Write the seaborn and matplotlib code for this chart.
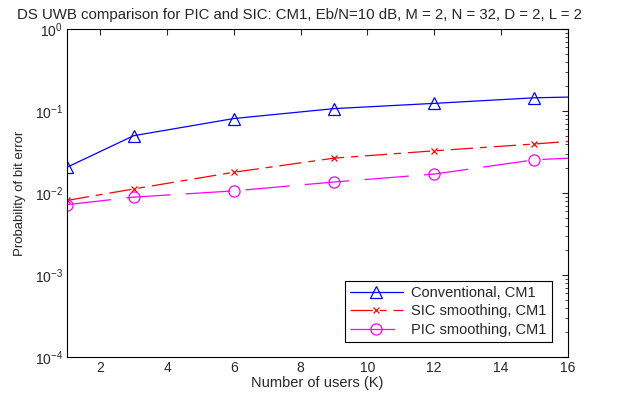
import numpy as np
import pandas as pd
import matplotlib
matplotlib.use('Agg')
import matplotlib.pyplot as plt
import seaborn as sns

# Dados (ultimo ponto fica fora do eixo, em K=18)
usuarios = [1, 3, 6, 9, 12, 15, 18]
ber_conv = [0.0206, 0.050, 0.081, 0.107, 0.124, 0.145, 0.154]
ber_sic = [0.0081, 0.0112, 0.0179, 0.0266, 0.0327, 0.0396, 0.049]
ber_pic = [0.0072, 0.0089, 0.0106, 0.0136, 0.0170, 0.0254, 0.029]
nomes = ['Conventional, CM1', 'SIC smoothing, CM1', 'PIC smoothing, CM1']

titulo = 'DS UWB comparison for PIC and SIC: CM1, Eb/N=10 dB, M = 2, N = 32, D = 2, L = 2'

df = pd.DataFrame({
    'K': usuarios * 3,
    'BER': ber_conv + ber_sic + ber_pic,
    'Serie': [nomes[0]] * len(usuarios) + [nomes[1]] * len(usuarios) + [nomes[2]] * len(usuarios),
})

sns.set_style('white')
plt.rcParams['font.family'] = ['Liberation Sans', 'DejaVu Sans']
plt.rcParams['font.size'] = 10
plt.rcParams['lines.scale_dashes'] = False

fig = plt.figure(figsize=(6.26, 3.93), dpi=100)
ax = fig.add_axes([0.107, 0.092, 0.800, 0.834])

# estilo parecido com o do MATLAB: '-^', '-.x', '--o'
estilos = {
    nomes[0]: dict(color='blue', linestyle='-', marker='^', markersize=8),
    nomes[1]: dict(color='red', linestyle=(0, (16, 5, 5, 5)), marker='x', markersize=4),
    nomes[2]: dict(color='magenta', linestyle=(0, (32, 11)), marker='o', markersize=8),
}

for nome in nomes:
    sub = df[df['Serie'] == nome]
    st = estilos[nome]
    sns.lineplot(data=sub, x='K', y='BER', ax=ax, label=nome,
                 color=st['color'], linestyle=st['linestyle'], marker=st['marker'],
                 markersize=st['markersize'], markerfacecolor='none',
                 markeredgecolor=st['color'], markeredgewidth=0.9, linewidth=0.9)

ax.set_yscale('log')
ax.set_xlim(1, 16)
ax.set_ylim(1e-4, 1e0)
ax.set_xticks([2, 4, 6, 8, 10, 12, 14, 16])
ax.set_xlabel('Number of users (K)', fontsize=10.5, labelpad=1)
ax.set_ylabel('Probability of bit error', fontsize=9.5, labelpad=6)
ax.set_title(titulo, fontsize=10.8, pad=7, x=0.465)

ax.tick_params(which='both', direction='in', top=True, right=True, labelsize=10, pad=3)
ax.tick_params(which='major', length=4)
ax.tick_params(which='minor', length=2)
for sp in ax.spines.values():
    sp.set_linewidth(0.8)
    sp.set_color('black')

leg = ax.legend(loc='lower right', bbox_to_anchor=(0.968, 0.046), borderaxespad=0,
                fontsize=10.5, frameon=True, fancybox=False, edgecolor='black',
                framealpha=1, handlelength=3.6, borderpad=0.35, labelspacing=0.3,
                handletextpad=0.6)
leg.get_frame().set_linewidth(0.8)

fig.savefig('out.png', dpi=100)
